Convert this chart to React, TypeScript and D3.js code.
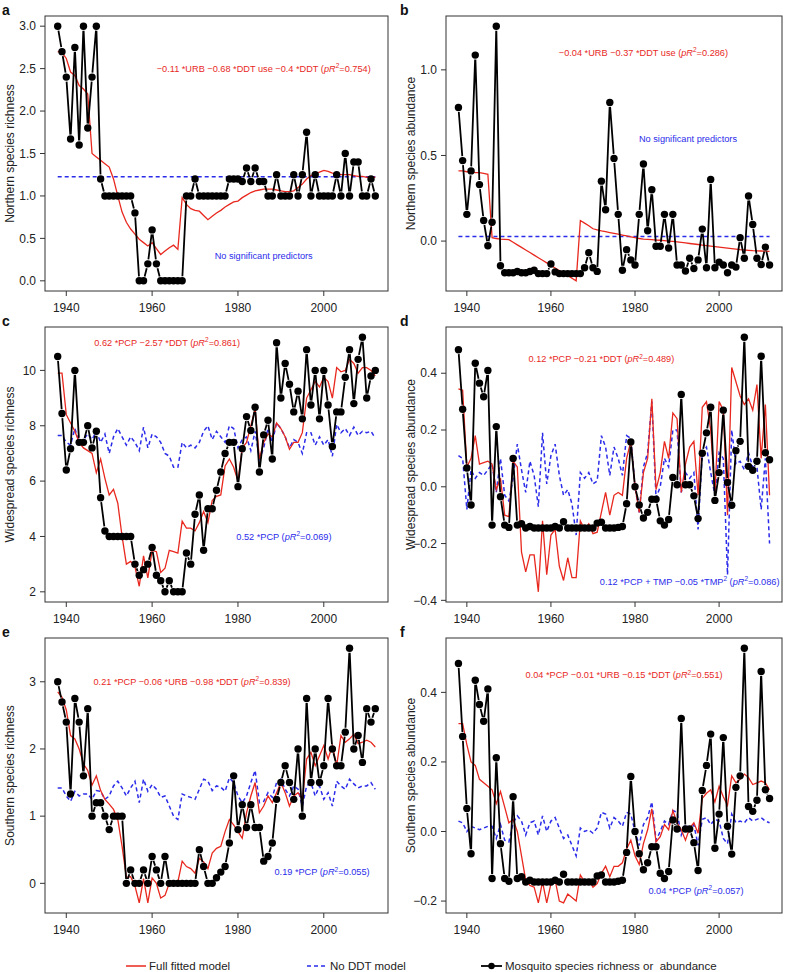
import React from "react";
import * as d3 from "d3";

// survey years
const years = [
  1938, 1939, 1940, 1941, 1942, 1943, 1944, 1945, 1946, 1947,
  1948, 1949, 1950, 1951, 1952, 1953, 1954, 1955, 1956, 1957,
  1958, 1959, 1960, 1961, 1962, 1963, 1964, 1965, 1966, 1967,
  1968, 1969, 1970, 1971, 1972, 1973, 1974, 1975, 1976, 1977,
  1978, 1979, 1980, 1981, 1982, 1983, 1984, 1985, 1986, 1987,
  1988, 1989, 1990, 1991, 1992, 1993, 1994, 1995, 1996, 1997,
  1998, 1999, 2000, 2001, 2002, 2003, 2004, 2005, 2006, 2007,
  2008, 2009, 2010, 2011, 2012,
];
const xTicks = [1940, 1960, 1980, 2000];

// a - northern richness
const northRichObs = [
  3.0, 2.7, 2.4, 1.67, 2.75, 1.6, 3.0, 1.8, 2.4, 3.0,
  1.2, 1.0, 1.0, 1.0, 1.0, 1.0, 1.0, 1.0, 0.8, 0.0,
  0.0, 0.2, 0.6, 0.2, 0.0, 0.0, 0.0, 0.0, 0.0, 0.0,
  1.0, 1.0, 1.2, 1.0, 1.0, 1.0, 1.0, 1.0, 1.0, 1.0,
  1.2, 1.2, 1.2, 1.17, 1.33, 1.17, 1.33, 1.17, 1.17, 1.0,
  1.0, 1.25, 1.0, 1.0, 1.0, 1.25, 1.0, 1.25, 1.75, 1.0,
  1.25, 1.0, 1.0, 1.0, 1.0, 1.25, 1.0, 1.5, 1.0, 1.4,
  1.4, 1.0, 1.0, 1.2, 1.0,
];
const northRichFull = [
  2.7, 2.69, 2.62, 2.46, 2.42, 2.3, 2.26, 2.2, 1.5, 1.46,
  1.42, 1.38, 1.34, 1.2, 1.0, 0.81, 0.69, 0.61, 0.55, 0.49,
  0.45, 0.41, 0.45, 0.38, 0.31, 0.35, 0.39, 0.42, 0.37, 0.98,
  0.9, 0.85, 0.83, 0.82, 0.77, 0.72, 0.76, 0.8, 0.83, 0.87,
  0.9, 0.93, 0.94, 0.98, 1.01, 1.04, 1.06, 1.07, 1.08, 1.08,
  1.08, 1.07, 1.06, 1.05, 1.05, 1.06, 1.1, 1.14, 1.2, 1.24,
  1.26, 1.28, 1.3, 1.29, 1.27, 1.26, 1.25, 1.25, 1.25, 1.24,
  1.23, 1.23, 1.22, 1.22, 1.22,
];
const northRichNoDDT = 1.225;

// b - northern abundance
const northAbundObs = [
  0.78, 0.47, 0.156, 0.41, 1.086, 0.33, 0.12, -0.027, 0.11, 1.255,
  -0.144, -0.185, -0.185, -0.185, -0.178, -0.185, -0.185, -0.178, -0.17, -0.19,
  -0.19, -0.19, -0.134, -0.18, -0.19, -0.19, -0.19, -0.19, -0.19, -0.19,
  -0.156, -0.068, -0.156, -0.177, 0.35, 0.183, 0.81, 0.483, 0.156, -0.17,
  -0.05, -0.11, -0.14, 0.156, 0.45, 0.06, 0.3, -0.03, -0.03, 0.156,
  -0.04, 0.156, -0.14, -0.14, -0.175, -0.1, -0.16, -0.11, 0.07, -0.156,
  0.36, -0.156, -0.123, -0.14, -0.185, -0.14, -0.152, 0.02, -0.1, 0.263,
  0.097, -0.1, -0.137, -0.035, -0.14,
];
const northAbundFull = [
  0.41, 0.41, 0.405, 0.405, 0.4, 0.4, 0.395, 0.39, 0.02, 0.015,
  0.012, 0.01, 0.008, -0.007, -0.022, -0.037, -0.052, -0.067, -0.082, -0.097,
  -0.112, -0.127, -0.142, -0.157, -0.172, -0.187, -0.202, -0.217, -0.232, 0.12,
  0.105, 0.09, 0.072, 0.066, 0.06, 0.055, 0.05, 0.045, 0.04, 0.035,
  0.03, 0.025, 0.02, 0.015, 0.012, 0.01, 0.008, 0.006, 0.005, 0.003,
  0.0, -0.002, -0.005, -0.008, -0.011, -0.014, -0.017, -0.02, -0.023, -0.026,
  -0.029, -0.032, -0.035, -0.038, -0.041, -0.044, -0.047, -0.05, -0.052, -0.054,
  -0.056, -0.057, -0.058, -0.059, -0.06,
];
const northAbundNoDDT = 0.027;

// c - widespread richness
const wideRichObs = [
  10.5, 8.44, 6.4, 7.17, 10.0, 7.4, 7.4, 8.0, 7.2, 7.8,
  5.4, 4.2, 4.0, 4.0, 4.0, 4.0, 4.0, 4.0, 3.0, 2.6,
  2.8, 3.0, 3.6, 2.6, 2.4, 2.0, 2.4, 2.0, 2.0, 2.0,
  3.4, 3.0, 4.8, 5.5, 3.5, 5.0, 5.0, 5.67, 6.33, 7.0,
  7.4, 7.4, 5.8, 7.17, 8.33, 7.83, 8.67, 6.33, 7.67, 8.2,
  6.8, 11.0, 9.0, 10.25, 9.5, 8.5, 9.25, 8.25, 10.75, 8.75,
  10.0, 8.25, 10.0, 8.75, 7.25, 8.5, 8.5, 9.75, 10.75, 8.8,
  10.4, 11.2, 9.0, 9.8, 10.0,
];
const wideRichFull = [
  9.9, 9.9, 8.4, 8.1, 7.8, 7.4, 7.2, 7.1, 7.0, 6.3,
  6.8, 6.1, 5.5, 5.7, 5.2, 4.0, 3.0, 3.1, 2.9, 2.2,
  3.3, 2.5, 3.5, 3.45, 2.7, 2.85, 3.5, 3.45, 3.4, 4.55,
  4.3, 4.3, 4.2, 4.5, 4.9, 4.5, 5.3, 5.45, 5.5, 6.55,
  6.8, 6.5, 6.0, 7.2, 7.4, 8.0, 8.6, 6.8, 7.4, 7.7,
  7.6, 8.1, 7.9, 7.6, 7.15, 7.4, 7.4, 7.75, 9.0, 9.3,
  9.6, 9.4, 9.75, 9.6, 9.0, 10.1, 9.95, 10.0, 10.4, 10.25,
  9.9, 10.1, 10.1, 10.0, 9.8,
];
const wideRichNoDDT = [
  7.65, 7.65, 7.4, 7.3, 7.9, 7.4, 7.5, 7.7, 7.5, 7.8,
  7.4, 7.7, 7.0, 7.6, 7.9, 7.6, 7.3, 7.6, 7.4, 7.1,
  7.95, 7.2, 7.7, 7.6, 7.4, 7.0, 6.9, 6.5, 6.5, 7.4,
  7.2, 7.3, 7.2, 7.4, 7.8, 8.0, 7.5, 7.8, 7.6, 7.4,
  8.0, 7.9, 7.2, 7.5, 7.6, 7.1, 7.8, 6.8, 7.2, 7.9,
  7.4, 8.1, 7.9, 7.6, 7.2, 7.5, 7.4, 7.0, 7.75, 7.75,
  7.3, 7.6, 7.3, 7.5, 6.9, 8.05, 7.75, 7.9, 7.65, 7.95,
  7.65, 7.8, 7.75, 7.8, 7.55,
];

// d - widespread abundance
const wideAbundObs = [
  0.483, 0.273, 0.066, -0.064, 0.435, 0.365, 0.317, 0.41, -0.135, 0.212,
  -0.035, -0.135, -0.143, 0.1, -0.135, -0.13, -0.145, -0.14, -0.145, -0.145,
  -0.145, -0.145, -0.145, -0.14, -0.145, -0.123, -0.145, -0.145, -0.145, -0.145,
  -0.145, -0.145, -0.145, -0.128, -0.125, -0.145, -0.145, -0.145, -0.143, -0.14,
  -0.06, 0.158, 0.0, -0.064, -0.11, -0.09, -0.044, -0.044, -0.12, -0.135,
  -0.115, 0.033, 0.007, 0.325, 0.007, 0.007, -0.032, -0.112, 0.118, 0.19,
  0.28, -0.048, 0.05, 0.27, 0.015, -0.065, 0.127, 0.16, 0.527, 0.072,
  0.058, 0.09, 0.46, 0.12, 0.095,
];
const wideAbundFull = [
  0.345, 0.34, 0.07, 0.1, 0.18, 0.08, 0.085, 0.09, 0.08, -0.01,
  0.03, -0.1, -0.105, 0.09, 0.07, -0.23, -0.3, -0.24, -0.24, -0.37,
  -0.12, -0.31, -0.17, -0.15, -0.28, -0.33, -0.25, -0.32, -0.32, -0.12,
  -0.15, -0.13, -0.165, -0.16, -0.09, -0.02, -0.1, -0.03, -0.02, -0.03,
  0.1, 0.16, 0.0, -0.09, 0.05, 0.1, 0.31, -0.01, 0.05, 0.16,
  0.1, 0.26, 0.24, -0.02, 0.08, 0.14, 0.16, -0.03, 0.28, 0.3,
  0.2, -0.03, 0.3, 0.27, -0.1, 0.42, 0.37, 0.32, 0.29, 0.31,
  0.27, 0.36, 0.1, 0.29, -0.03,
];
const wideAbundNoDDT = [
  0.11, 0.1, -0.08, 0.06, 0.03, 0.05, 0.04, 0.06, 0.08, -0.02,
  0.1, -0.03, -0.05, 0.03, 0.15, 0.06, -0.02, 0.09, 0.04, -0.07,
  0.19, 0.01, 0.11, 0.15, 0.04, -0.03, -0.01, -0.06, -0.17, 0.05,
  0.03, 0.05, 0.01, 0.02, 0.18, 0.14, 0.04, 0.14, 0.1, 0.04,
  0.18, 0.17, 0.0, -0.09, 0.07, 0.12, 0.3, -0.04, 0.0, 0.1,
  0.07, 0.2, 0.2, -0.02, 0.05, 0.03, 0.05, -0.15, 0.12, 0.14,
  0.05, -0.03, 0.12, 0.1, -0.31, 0.2, 0.08, 0.09, 0.06, 0.12,
  0.07, 0.07, -0.08, 0.1, -0.2,
];

// e - southern richness
const southRichObs = [
  3.0, 2.7, 2.4, 1.33, 2.75, 2.4, 1.6, 2.6, 1.0, 1.2,
  1.2, 1.0, 0.8, 1.0, 1.0, 1.0, 0.0, 0.2, 0.0, 0.0,
  0.2, 0.0, 0.4, 0.2, 0.0, 0.4, 0.0, 0.0, 0.0, 0.0,
  0.0, 0.0, 0.0, 0.5, 0.25, 0.0, 0.0, 0.083, 0.167, 0.25,
  0.6, 1.6, 0.8, 1.17, 0.83, 1.17, 0.83, 0.83, 0.33, 0.4,
  0.6, 1.25, 1.5, 1.75, 1.5, 1.25, 2.0, 1.0, 2.75, 1.5,
  2.0, 1.5, 1.75, 2.75, 2.0, 1.75, 1.75, 2.25, 3.5, 2.0,
  2.2, 1.8, 2.6, 2.4, 2.6,
];
const southRichFull = [
  2.85, 2.77, 2.58, 2.2, 2.15, 2.0, 1.78, 1.68, 1.46, 1.6,
  1.38, 1.25, 1.18, 1.1, 0.95, 0.55, 0.09, 0.1, -0.04, -0.29,
  0.07, -0.29, 0.08, 0.0, -0.22, -0.18, 0.0, 0.02, 0.02, 0.33,
  0.25, 0.22, 0.15, 0.37, 0.32, 0.22, 0.45, 0.52, 0.55, 0.77,
  0.95, 0.87, 0.77, 0.67, 1.05, 1.3, 1.5, 1.05, 1.15, 1.3,
  1.2, 1.35, 1.5, 1.35, 1.15, 1.3, 1.35, 1.25, 1.85, 1.95,
  1.75, 1.9, 2.05, 1.85, 2.05, 1.75, 2.2, 2.1, 2.15, 2.22,
  2.08, 2.1, 2.13, 2.1, 2.03,
];
const southRichNoDDT = [
  1.42, 1.42, 1.3, 1.22, 1.37, 1.3, 1.33, 1.33, 1.25, 1.38,
  1.37, 1.25, 1.3, 1.45, 1.52, 1.42, 1.3, 1.42, 1.52, 1.2,
  1.55, 1.37, 1.47, 1.4, 1.28, 1.3, 1.15, 1.0, 0.95, 1.33,
  1.3, 1.28, 1.25, 1.4, 1.55, 1.52, 1.38, 1.45, 1.43, 1.37,
  1.57, 1.5, 1.3, 1.2, 1.3, 1.5, 1.68, 1.2, 1.22, 1.35,
  1.28, 1.5, 1.55, 1.4, 1.3, 1.45, 1.4, 1.15, 1.45, 1.5,
  1.3, 1.45, 1.25, 1.35, 1.15, 1.52, 1.45, 1.4, 1.55, 1.48,
  1.42, 1.45, 1.45, 1.5, 1.4,
];

// f - southern abundance (observed series is the same as in d)
const southAbundObs = wideAbundObs;
const southAbundFull = [
  0.31, 0.31, 0.25, 0.2, 0.19, 0.15, 0.14, 0.13, 0.12, 0.08,
  0.115, 0.07, 0.025, 0.035, 0.0, -0.07, -0.14, -0.155, -0.16, -0.205,
  -0.145, -0.205, -0.15, -0.14, -0.2, -0.205, -0.18, -0.19, -0.2, -0.125,
  -0.145, -0.14, -0.16, -0.15, -0.12, -0.1, -0.13, -0.1, -0.1, -0.09,
  -0.05, -0.025, -0.07, -0.095, -0.035, 0.005, 0.065, -0.03, -0.015, 0.02,
  0.005, 0.06, 0.025, 0.005, -0.025, 0.01, 0.025, -0.005, 0.095, 0.11,
  0.12, 0.085, 0.13, 0.1, 0.075, 0.16, 0.14, 0.15, 0.165, 0.155,
  0.135, 0.14, 0.145, 0.14, 0.12,
];
const southAbundNoDDT = [
  0.03, 0.025, 0.0, 0.015, 0.01, 0.005, 0.01, 0.015, 0.015, -0.02,
  0.02, -0.025, -0.03, 0.025, 0.045, 0.03, -0.01, 0.025, 0.03, -0.01,
  0.045, 0.0, 0.03, 0.04, 0.01, -0.02, -0.01, -0.04, -0.07, 0.01,
  0.0, 0.005, -0.005, 0.01, 0.055, 0.05, 0.01, 0.04, 0.03, 0.015,
  0.055, 0.05, 0.0, -0.04, 0.02, 0.04, 0.085, -0.025, 0.0, 0.03,
  0.02, 0.06, 0.055, -0.01, 0.02, 0.01, 0.02, -0.04, 0.035, 0.04,
  0.02, 0.035, 0.03, -0.02, -0.035, 0.05, 0.025, 0.03, 0.025, 0.04,
  0.03, 0.035, 0.04, 0.03, 0.025,
];

const RED = "#e8281e";
const BLUE = "#2b2bea";
const FONT = "'Liberation Sans', Arial, Helvetica, sans-serif";

type Seg = { t: string; it?: boolean; sup?: boolean };
type Note = { yr: number; val: number; color: string; segs: Seg[] };

const r2 = (pre: Seg[], v: string): Seg[] => [
  ...pre,
  { t: " (" },
  { t: "pR", it: true },
  { t: "2", sup: true },
  { t: "=" + v + ")" },
];

const fmt1 = d3.format(".1f");
const fmt0 = d3.format("d");
const minus = (s: string) => s.replace("-", "\u2212");

type PanelProps = {
  left: number;
  top: number;
  width: number;
  height: number;
  letter: string;
  yTitle: string;
  obs: number[];
  full: number[];
  noDDT: number[];
  yTicks: number[];
  fmt: (n: number) => string;
  notes: Note[];
};

function NoteText({ x, y, color, segs }: { x: number; y: number; color: string; segs: Seg[] }) {
  const out: React.ReactNode[] = [];
  let raised = false;
  segs.forEach((s, i) => {
    let dy = 0;
    if (s.sup && !raised) {
      dy = -3.5;
      raised = true;
    } else if (!s.sup && raised) {
      dy = 3.5;
      raised = false;
    }
    out.push(
      <tspan
        key={i}
        dy={dy || undefined}
        fontStyle={s.it ? "italic" : undefined}
        fontSize={s.sup ? 6.5 : undefined}
      >
        {s.t}
      </tspan>
    );
  });
  return (
    <text x={x} y={y} dy="0.35em" fill={color} fontSize={9.2} textAnchor="middle" style={{ whiteSpace: "pre" }}>
      {out}
    </text>
  );
}

function Panel(p: PanelProps) {
  const x = d3
    .scaleLinear()
    .domain([1938 - 0.04 * 74, 2012 + 0.04 * 74])
    .range([p.left, p.left + p.width]);
  const [lo, hi] = d3.extent([...p.obs, ...p.full, ...p.noDDT]) as [number, number];
  const pad = (hi - lo) * 0.04;
  const y = d3
    .scaleLinear()
    .domain([lo - pad, hi + pad])
    .range([p.top + p.height, p.top]);

  const line = d3
    .line<number>()
    .x((_, i) => x(years[i]))
    .y((v) => y(v));

  // R type="b": segments stop short of each point
  const gap = 4.5;
  const segs: string[] = [];
  for (let i = 0; i < p.obs.length - 1; i++) {
    const x1 = x(years[i]), y1 = y(p.obs[i]);
    const x2 = x(years[i + 1]), y2 = y(p.obs[i + 1]);
    const len = Math.hypot(x2 - x1, y2 - y1);
    if (len <= 2 * gap) continue;
    const ux = (x2 - x1) / len, uy = (y2 - y1) / len;
    segs.push(`M${x1 + ux * gap},${y1 + uy * gap}L${x2 - ux * gap},${y2 - uy * gap}`);
  }

  const bottom = p.top + p.height;
  return (
    <g fontFamily={FONT}>
      <text x={p.left < 200 ? 2 : 400} y={p.top - 1} fontSize={14} fontWeight="bold" fill="#111">
        {p.letter}
      </text>
      <path d={line(p.noDDT) || ""} fill="none" stroke={BLUE} strokeWidth={1.5} strokeDasharray="4,3" />
      <path d={line(p.full) || ""} fill="none" stroke={RED} strokeWidth={1.3} />
      <path d={segs.join("")} fill="none" stroke="#000" strokeWidth={1.8} />
      {p.obs.map((v, i) => (
        <circle key={i} cx={x(years[i])} cy={y(v)} r={3.7} fill="#000" />
      ))}
      {p.notes.map((n, i) => (
        <NoteText key={i} x={x(n.yr)} y={y(n.val)} color={n.color} segs={n.segs} />
      ))}
      <rect x={p.left} y={p.top} width={p.width} height={p.height} fill="none" stroke="#333" strokeWidth={1} />
      {/* x axis */}
      {xTicks.map((t) => (
        <g key={t}>
          <line x1={x(t)} x2={x(t)} y1={bottom} y2={bottom + 5} stroke="#333" />
          <text x={x(t)} y={bottom + 21} fontSize={12} textAnchor="middle" fill="#222">
            {t}
          </text>
        </g>
      ))}
      {/* y axis */}
      {p.yTicks.map((t) => (
        <g key={t}>
          <line x1={p.left - 5} x2={p.left} y1={y(t)} y2={y(t)} stroke="#333" />
          <text x={p.left - 9} y={y(t)} dy="0.35em" fontSize={12} textAnchor="end" fill="#222">
            {minus(p.fmt(t))}
          </text>
        </g>
      ))}
      <text
        transform={`translate(${p.left - 31},${p.top + p.height / 2}) rotate(-90)`}
        fontSize={12}
        textAnchor="middle"
        fill="#222"
      >
        {p.yTitle}
      </text>
    </g>
  );
}

const flat = (v: number) => years.map(() => v);

export default function App() {
  const L = 45, LW = 343, R = 446, RW = 336, H = 275;
  const tops = [16, 327, 638];
  return (
    <svg
      width={788}
      height={972}
      style={{ position: "absolute", left: 0, top: 0, background: "#fff" }}
      fontFamily={FONT}
    >
      <Panel
        left={L} top={tops[0]} width={LW} height={H} letter="a"
        yTitle="Northern species richness"
        obs={northRichObs} full={northRichFull} noDDT={flat(northRichNoDDT)}
        yTicks={[0, 0.5, 1, 1.5, 2, 2.5, 3]} fmt={fmt1}
        notes={[
          { yr: 1986, val: 2.5, color: RED, segs: r2([{ t: "\u22120.11 *URB \u22120.68 *DDT use \u22120.4 *DDT" }], "0.754") },
          { yr: 1986, val: 0.3, color: BLUE, segs: [{ t: "No significant predictors" }] },
        ]}
      />
      <Panel
        left={R} top={tops[0]} width={RW} height={H} letter="b"
        yTitle="Northern species abundance"
        obs={northAbundObs} full={northAbundFull} noDDT={flat(northAbundNoDDT)}
        yTicks={[0, 0.5, 1]} fmt={fmt1}
        notes={[
          { yr: 1982, val: 1.1, color: RED, segs: r2([{ t: "\u22120.04 *URB \u22120.37 *DDT use" }], "0.286") },
          { yr: 1992.6, val: 0.6, color: BLUE, segs: [{ t: "No significant predictors" }] },
        ]}
      />
      <Panel
        left={L} top={tops[1]} width={LW} height={H} letter="c"
        yTitle="Widespread species richness"
        obs={wideRichObs} full={wideRichFull} noDDT={wideRichNoDDT}
        yTicks={[2, 4, 6, 8, 10]} fmt={fmt0}
        notes={[
          { yr: 1963.5, val: 11, color: RED, segs: r2([{ t: "0.62 *PCP \u22122.57 *DDT" }], "0.861") },
          { yr: 1990.7, val: 4, color: BLUE, segs: r2([{ t: "0.52 *PCP" }], "0.069") },
        ]}
      />
      <Panel
        left={R} top={tops[1]} width={RW} height={H} letter="d"
        yTitle="Widespread species abundance"
        obs={wideAbundObs} full={wideAbundFull} noDDT={wideAbundNoDDT}
        yTicks={[-0.4, -0.2, 0, 0.2, 0.4]} fmt={fmt1}
        notes={[
          { yr: 1972, val: 0.45, color: RED, segs: r2([{ t: "0.12 *PCP \u22120.21 *DDT" }], "0.489") },
          {
            yr: 1993, val: -0.333, color: BLUE,
            segs: r2([{ t: "0.12 *PCP + TMP \u22120.05 *TMP" }, { t: "2", sup: true }], "0.086"),
          },
        ]}
      />
      <Panel
        left={L} top={tops[2]} width={LW} height={H} letter="e"
        yTitle="Southern species richness"
        obs={southRichObs} full={southRichFull} noDDT={southRichNoDDT}
        yTicks={[0, 1, 2, 3]} fmt={fmt0}
        notes={[
          { yr: 1969.3, val: 3, color: RED, segs: r2([{ t: "0.21 *PCP \u22120.06 *URB \u22120.98 *DDT" }], "0.839") },
          { yr: 1999.6, val: 0.17, color: BLUE, segs: r2([{ t: "0.19 *PCP" }], "0.055") },
        ]}
      />
      <Panel
        left={R} top={tops[2]} width={RW} height={H} letter="f"
        yTitle="Southern species abundance"
        obs={southAbundObs} full={southAbundFull} noDDT={southAbundNoDDT}
        yTicks={[-0.2, 0, 0.2, 0.4]} fmt={fmt1}
        notes={[
          { yr: 1977.4, val: 0.45, color: RED, segs: r2([{ t: "0.04 *PCP \u22120.01 *URB \u22120.15 *DDT" }], "0.551") },
          { yr: 1994.5, val: -0.17, color: BLUE, segs: r2([{ t: "0.04 *PCP" }], "0.057") },
        ]}
      />
      {/* legend */}
      <g fontSize={11.5} fill="#222">
        <line x1={126} x2={146} y1={966} y2={966} stroke={RED} strokeWidth={1.5} />
        <text x={149} y={966} dy="0.35em">Full fitted model</text>
        <line x1={307} x2={327} y1={966} y2={966} stroke={BLUE} strokeWidth={1.5} strokeDasharray="4,3" />
        <text x={330} y={966} dy="0.35em">No DDT model</text>
        <line x1={481} x2={502} y1={966} y2={966} stroke="#000" strokeWidth={1.8} />
        <circle cx={491.5} cy={966} r={3.2} fill="#000" />
        <text x={505} y={966} dy="0.35em" style={{ whiteSpace: "pre" }}>
          Mosquito species richness or  abundance
        </text>
      </g>
    </svg>
  );
}
